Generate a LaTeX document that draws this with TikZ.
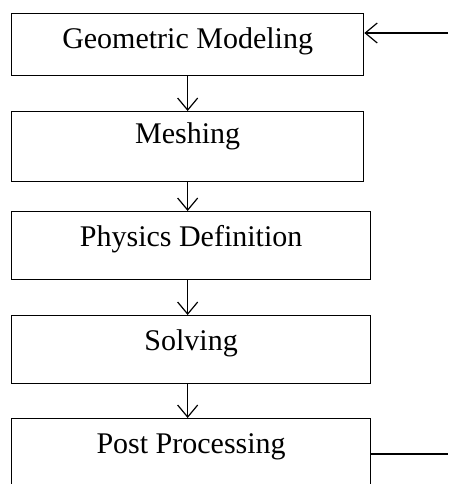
\documentclass[tikz,border=0pt]{standalone}
\usepackage{fontspec}
\setmainfont{Liberation Serif}
\usetikzlibrary{arrows.meta,positioning}

\tikzset{
  stage/.style={draw, line width=1.3pt, inner sep=0pt, anchor=north west,
    font=\fontsize{30}{32}\selectfont, text height=35pt},
}

\begin{document}
\begin{tikzpicture}[x=1pt, y=-1pt, >={Straight Barb[length=12pt,width=20pt]}]
\useasboundingbox (0,0) rectangle (448,484);

% stages
\node[stage, minimum width=352pt, text depth=27pt] (geo) at (11,13) {Geometric Modeling};
\node[stage, minimum width=352pt, text height=32pt, text depth=38pt] (mesh) at (11,111) {Meshing};
\node[stage, minimum width=359pt, text depth=33pt] (phys) at (11,211) {Physics Definition};
\node[stage, minimum width=359pt, text depth=33pt] (solve) at (11,315) {Solving};
\node[stage, minimum width=359pt, text depth=37pt] (post) at (11,418) {Post Processing};

% flow
\draw[->, line width=1.2pt] (geo.south) -- (mesh.north);
\draw[->, line width=1.2pt] (mesh.south) -- (mesh.south |- phys.north);
\draw[->, line width=1.2pt] (mesh.south |- phys.south) -- (mesh.south |- solve.north);
\draw[->, line width=1.2pt] (mesh.south |- solve.south) -- (mesh.south |- post.north);

% loop back
\coordinate (backin) at (448,33);
\coordinate (backout) at (448,454);
\draw[line width=1.2pt] (post.east |- backout) -- (backout);
\draw[->, line width=1.2pt] (backin) -- (backin -| geo.east);
\end{tikzpicture}
\end{document}
